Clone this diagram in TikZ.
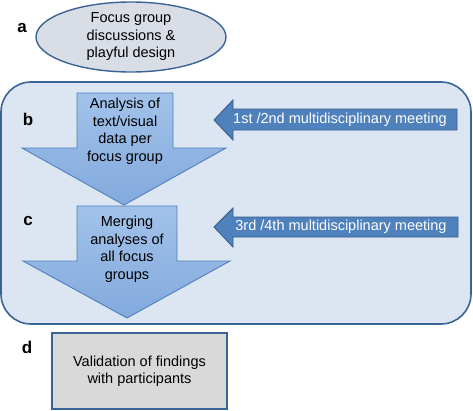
\documentclass[tikz,border=0pt]{standalone}
\usepackage{fontspec}
\setmainfont{Liberation Sans}
\usetikzlibrary{positioning,shapes.geometric}
\definecolor{edgeblue}{HTML}{3B6496}
\definecolor{panelfill}{HTML}{DCE6F2}
\definecolor{flowtop}{HTML}{A2C2EA}
\definecolor{flowbottom}{HTML}{82AADD}
\definecolor{flowedge}{HTML}{4F7FBA}
\definecolor{meetfill}{HTML}{4F81BD}
\definecolor{meetedge}{HTML}{385D8A}
\definecolor{ovalfill}{HTML}{D9DDE5}
\definecolor{boxfill}{HTML}{D9D9D9}
\begin{document}
\begin{tikzpicture}[x=1pt, y=-1pt,
       panel/.style={draw=edgeblue, line width=1.6pt, fill=panelfill, rounded corners=30pt},
       flowarrow/.style={draw=flowedge, line width=0.9pt, top color=flowtop, bottom color=flowbottom},
       meetarrow/.style={draw=meetedge, line width=0.9pt, fill=meetfill},
       txt/.style={align=center, inner sep=0pt, font=\fontsize{14.5}{17.5}\selectfont},
       meettxt/.style={txt, text=white},
       tag/.style={anchor=base, inner sep=0pt, font=\fontsize{17}{20}\selectfont\bfseries},
       oval/.style={ellipse, draw=edgeblue, line width=1.4pt, fill=ovalfill, minimum width=190pt, minimum height=70pt, inner sep=0pt, txt},
       stepbox/.style={rectangle, draw=edgeblue, line width=1.4pt, fill=boxfill, minimum width=175pt, minimum height=76pt, inner sep=0pt, txt}
   ]
   \useasboundingbox (0,0) rectangle (473,410);

   % stage a
   \node[oval] (focus) at (131,37) {Focus group\\discussions \&\\playful design};
   \node[tag] (taga) at (22,32) {a};

   % stages b and c
   \draw[panel] (1,82) rectangle (471,324);
   \draw[flowarrow] (77,93) -- (173,93) -- (173,148) -- (226,148) -- (124,205) -- (22,148) -- (77,148) -- cycle;
   \draw[flowarrow] (77,206) -- (177,206) -- (177,261) -- (230,261) -- (127,318) -- (23,261) -- (77,261) -- cycle;
   \node[txt] (analysis) at (125,131) {Analysis of\\text/visual\\data per\\focus group};
   \node[txt] (merging) at (127,249) {Merging\\analyses of\\all focus\\groups};
   \node[tag] (tagb) at (28,125) {b};
   \node[tag] (tagc) at (28,225) {c};

   \draw[meetarrow] (214,120) -- (233,100) -- (233,109) -- (457,109) -- (457,130) -- (233,130) -- (233,140) -- cycle;
   \draw[meetarrow] (214,227) -- (233,208) -- (233,217) -- (458,217) -- (458,237) -- (233,237) -- (233,247) -- cycle;
   \node[meettxt] (meetone) at (340,120) {1st /2nd multidisciplinary meeting};
   \node[meettxt] (meettwo) at (341,227) {3rd /4th multidisciplinary meeting};

   % stage d
   \node[stepbox] (valid) at (139.5,371) {Validation of findings\\with participants};
   \node[tag] (tagd) at (27,353) {d};
\end{tikzpicture}
\end{document}
